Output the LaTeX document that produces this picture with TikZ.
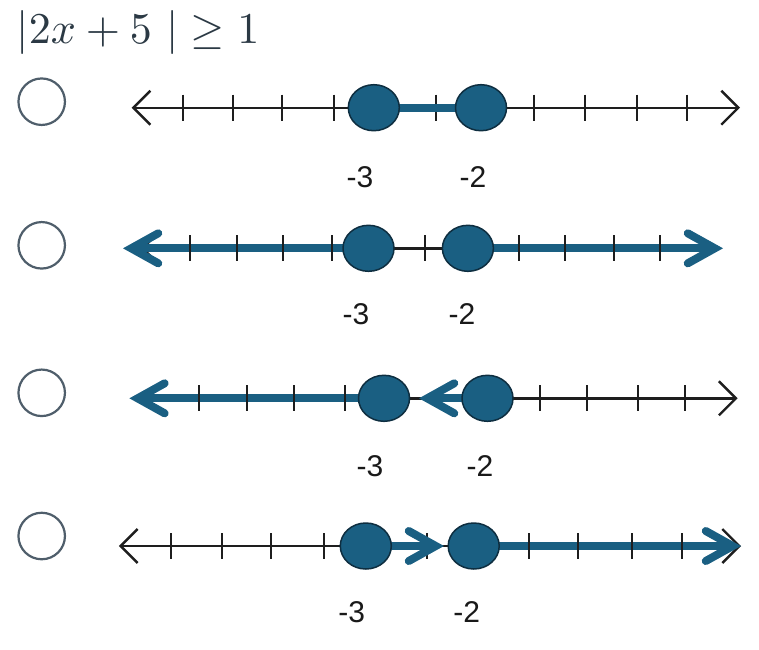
\documentclass[tikz,border=0pt]{standalone}
\usepackage{graphicx}
\usepackage{fontspec}
\newfontfamily\labfont{Liberation Sans}
\usetikzlibrary{arrows.meta,shapes.geometric}
\definecolor{fillblue}{HTML}{1A5F82}
\definecolor{edgeblue}{HTML}{0E2E40}
\definecolor{radio}{HTML}{4F5E6B}
\definecolor{titlec}{HTML}{2B3944}
\definecolor{axisc}{HTML}{1E1E1E}
\tikzset{
  axisline/.style={line width=2.4pt, axisc,
    {Straight Barb[length=17pt,width=34pt]}-{Straight Barb[length=17pt,width=34pt]}},
  tickmark/.style={line width=2pt, axisc},
  ray/.style={line width=8pt, fillblue},
  raytip/.style={-{Straight Barb[length=27pt,width=30pt,line cap=round,line join=miter]}},
  dot/.style={ellipse, draw=edgeblue, line width=1.5pt, fill=fillblue,
    minimum width=51pt, minimum height=46pt, inner sep=0pt},
  radiobtn/.style={circle, draw=radio, line width=2.2pt, minimum size=46.5pt, inner sep=0pt},
  numlab/.style={font=\labfont\fontsize{30}{33}\selectfont, inner sep=0pt, text=black!90},
}
\begin{document}
\begin{tikzpicture}[x=1pt,y=-1pt]
\useasboundingbox (0,0) rectangle (759,649);
\fill[white] (0,0) rectangle (759,649);

% title
\node[anchor=base west, inner sep=0pt, text=titlec, font=\fontsize{10}{12}\selectfont]
  (title) at (16.5,43) {\scalebox{4.4}{$|2x+5\ |\geq 1$}};

% radio buttons
\node[radiobtn] (rb1) at (41.7,101.7) {};
\node[radiobtn] (rb2) at (41.7,245.3) {};
\node[radiobtn] (rb3) at (41.7,392.8) {};
\node[radiobtn] (rb4) at (41.7,536) {};

% ---------- Row 1 ----------
\coordinate (a1L) at (131.7,107.7);
\coordinate (a1R) at (740,107.7);
\coordinate (p1a) at (373.8,107.7);
\coordinate (p1b) at (481,107.7);
\draw[axisline] (a1L) -- (a1R);
\foreach \t in {183,232.7,281.7,334,435.7,534,585,636.7,686.7}
  \draw[tickmark] (\t,94.7) -- (\t,120.7);
\draw[ray] (p1a) -- (p1b);
\node[dot] (d1a) at (p1a) {};
\node[dot] (d1b) at (p1b) {};
\node[numlab] (l1a) at (360,177.5) {-3};
\node[numlab] (l1b) at (473,177.5) {-2};

% ---------- Row 2 ----------
\coordinate (a2L) at (141,248.3);
\coordinate (a2R) at (708,248.3);
\coordinate (b2L) at (123,248.3);
\coordinate (b2R) at (723,248.3);
\coordinate (p2a) at (368.5,248.3);
\coordinate (p2b) at (467.9,248.3);
\draw[axisline] (a2L) -- (a2R);
\draw[ray,raytip] (p2a) -- (b2L);
\draw[ray,raytip] (p2b) -- (b2R);
\foreach \t in {190,237,283,331.5,425,518.6,564.8,613.8,660}
  \draw[tickmark] (\t,235.3) -- (\t,261.3);
\node[dot] (d2a) at (p2a) {};
\node[dot] (d2b) at (p2b) {};
\node[numlab] (l2a) at (356,314) {-3};
\node[numlab] (l2b) at (462,314) {-2};

% ---------- Row 3 ----------
\coordinate (a3L) at (145,398.3);
\coordinate (a3R) at (737.6,398.3);
\coordinate (b3L) at (129.4,398.3);
\coordinate (m3) at (419,398.3);
\coordinate (p3a) at (384,398.3);
\coordinate (p3b) at (487.5,398.3);
\draw[axisline] (a3L) -- (a3R);
\draw[ray,raytip] (p3a) -- (b3L);
\draw[ray,raytip] (p3b) -- (m3);
\foreach \t in {198.6,246.8,293.8,344.5,539.6,587.4,638.2,685}
  \draw[tickmark] (\t,385.3) -- (\t,411.3);
\node[dot] (d3a) at (p3a) {};
\node[dot] (d3b) at (p3b) {};
\node[numlab] (l3a) at (370,466) {-3};
\node[numlab] (l3b) at (480,466) {-2};

% ---------- Row 4 ----------
\coordinate (a4L) at (118.9,546);
\coordinate (a4R) at (741,546);
\coordinate (b4R) at (741,546);
\coordinate (m4) at (444,546);
\coordinate (p4a) at (365.8,546);
\coordinate (p4b) at (473.7,546);
\draw[axisline] (a4L) -- (a4R);
\draw[tickmark] (427.3,533) -- (427.3,559);
\draw[ray,raytip] (p4a) -- (m4);
\draw[ray,raytip] (p4b) -- (b4R);
\foreach \t in {170.5,221.6,271,324.4,528.7,578.2,631.9,682.2}
  \draw[tickmark] (\t,533) -- (\t,559);
\node[dot] (d4a) at (p4a) {};
\node[dot] (d4b) at (p4b) {};
\node[numlab] (l4a) at (351.7,611.7) {-3};
\node[numlab] (l4b) at (466.7,611.7) {-2};
\end{tikzpicture}
\end{document}
